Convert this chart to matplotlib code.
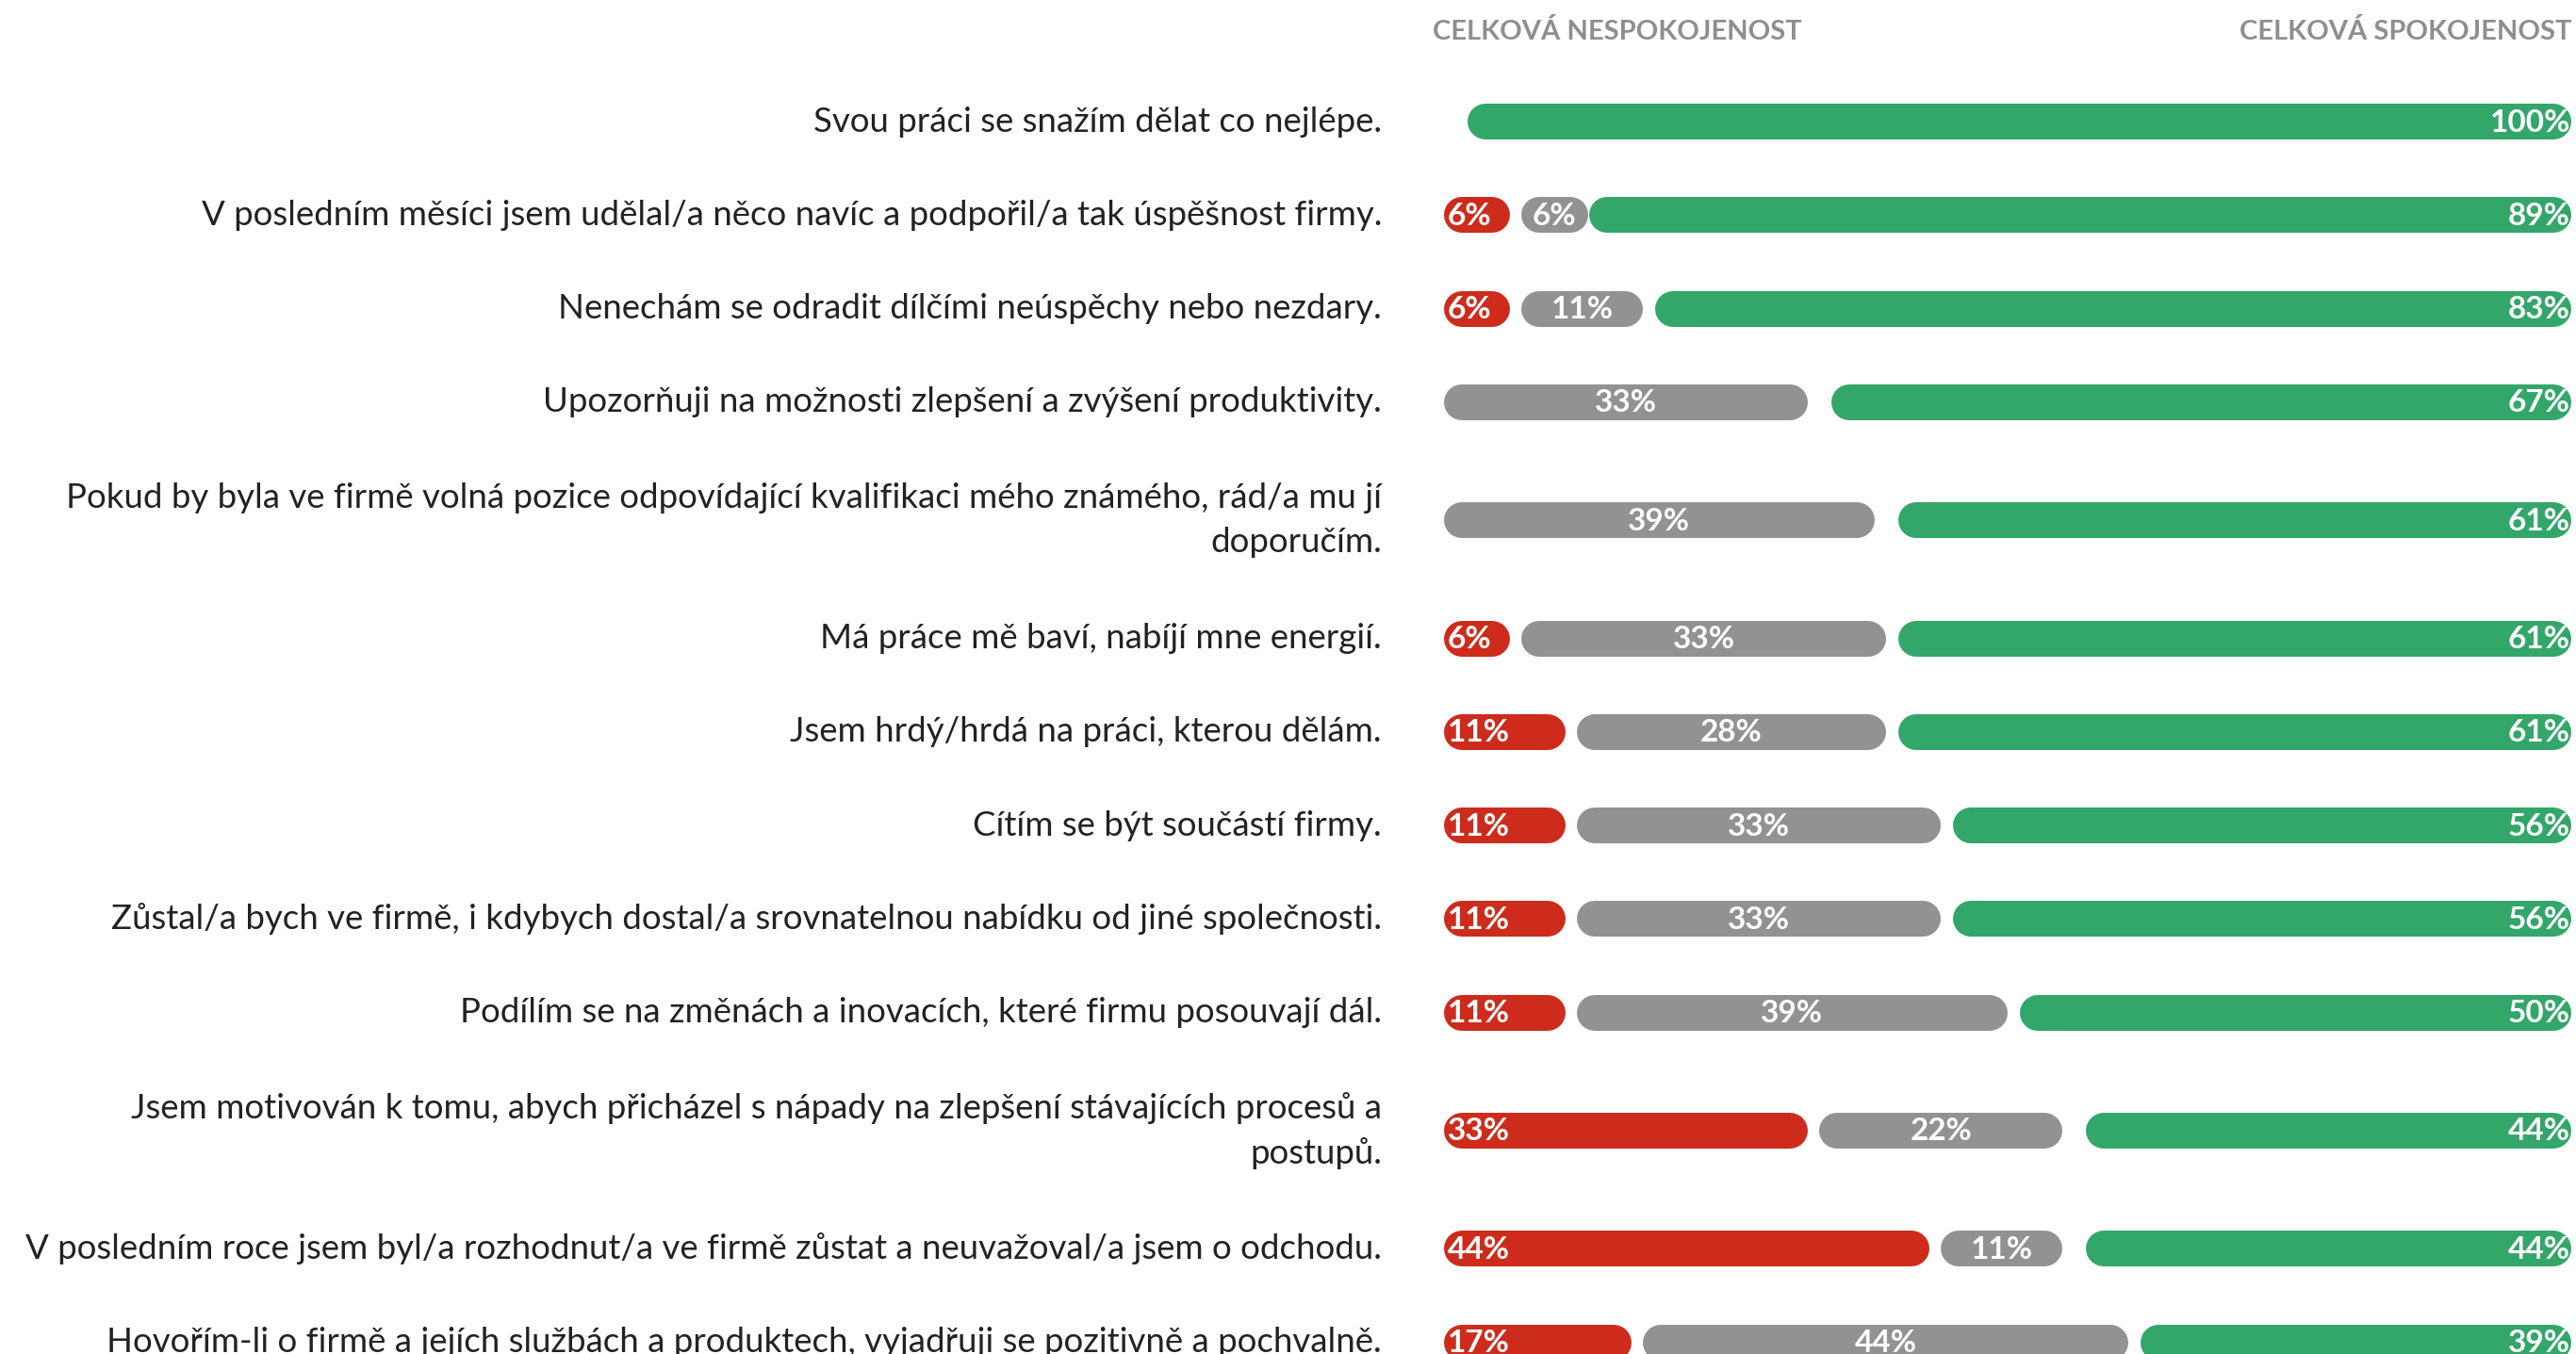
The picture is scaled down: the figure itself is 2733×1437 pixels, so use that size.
import matplotlib.pyplot as plt

otazky = [
    "Svou práci se snažím dělat co nejlépe.",
    "V posledním měsíci jsem udělal/a něco navíc a podpořil/a tak úspěšnost firmy.",
    "Nenechám se odradit dílčími neúspěchy nebo nezdary.",
    "Upozorňuji na možnosti zlepšení a zvýšení produktivity.",
    "Pokud by byla ve firmě volná pozice odpovídající kvalifikaci mého známého, rád/a mu jí\ndoporučím.",
    "Má práce mě baví, nabíjí mne energií.",
    "Jsem hrdý/hrdá na práci, kterou dělám.",
    "Cítím se být součástí firmy.",
    "Zůstal/a bych ve firmě, i kdybych dostal/a srovnatelnou nabídku od jiné společnosti.",
    "Podílím se na změnách a inovacích, které firmu posouvají dál.",
    "Jsem motivován k tomu, abych přicházel s nápady na zlepšení stávajících procesů a\npostupů.",
    "V posledním roce jsem byl/a rozhodnut/a ve firmě zůstat a neuvažoval/a jsem o odchodu.",
    "Hovořím-li o firmě a jejích službách a produktech, vyjadřuji se pozitivně a pochvalně.",
]
nespokojenost = [0, 6, 6, 0, 0, 6, 11, 11, 11, 11, 33, 44, 17]
neutralni = [0, 6, 11, 33, 39, 33, 28, 33, 33, 39, 22, 11, 44]
spokojenost = [100, 89, 83, 67, 61, 61, 61, 56, 56, 50, 44, 44, 39]

RED = "#cd2c1c"
GRAY = "#939192"
GREEN = "#33a66a"

W, H = 2733, 1437
fig = plt.figure(figsize=(W / 100, H / 100), dpi=100)
plt.rcParams["font.family"] = ["Lato", "DejaVu Sans"]

# bar area in pixels, x axis in percent
left_px, right_px = 1532, 2728
px_per_pct = 11.71
xmax = (right_px - left_px) / px_per_pct
ax = fig.add_axes([left_px / W, 0, (right_px - left_px) / W, 1])
ax.set_xlim(0, xmax)
ax.set_ylim(H, 0)
ax.axis("off")

bar_h = 38  # px
rad = bar_h / 2 / px_per_pct
gap = 12 / px_per_pct

# row centres: two-line questions take more room
row_h, extra = 99.3, 26
centres = []
y = 129 - row_h / 2
for q in otazky:
    n = q.count("\n")
    y += extra * n
    centres.append(y + row_h / 2)
    y += row_h + extra * n


def pill(x0, x1, yc, color):
    a, b = x0 + rad, x1 - rad
    if b < a:
        a = b = (x0 + x1) / 2
    ax.plot([a, b], [yc, yc], color=color, lw=bar_h * 0.72,
            solid_capstyle="round", clip_on=True)


lbl = dict(color="white", fontsize=24, fontweight="bold", va="center")
for q, r, g, s, yc in zip(otazky, nespokojenost, neutralni, spokojenost, centres):
    x = 0
    if r > 0:
        pill(0, r, yc, RED)
        ax.text(0.3, yc + 1, f"{r}%", ha="left", **lbl)
        x = r + gap
    if g > 0:
        pill(x, x + g, yc, GRAY)
        ax.text(x + g / 2, yc + 1, f"{g}%", ha="center", **lbl)
    if s > 0:
        pill(xmax - s, xmax, yc, GREEN)
        ax.text(xmax - 0.1, yc + 1, f"{s}%", ha="right", **lbl)
    ax.text(-(left_px - 1466) / px_per_pct, yc, q, ha="right", va="center",
            multialignment="right", fontsize=26.4, color="#222222",
            linespacing=1.52)

fig.text(1520 / W, 1 - 33 / H, "CELKOVÁ NESPOKOJENOST", ha="left", va="center",
         fontsize=21, fontweight="bold", color="#8e8e8e")
fig.text(2728 / W, 1 - 33 / H, "CELKOVÁ SPOKOJENOST", ha="right", va="center",
         fontsize=21, fontweight="bold", color="#8e8e8e")

fig.savefig("out.png", dpi=100, facecolor="white")
